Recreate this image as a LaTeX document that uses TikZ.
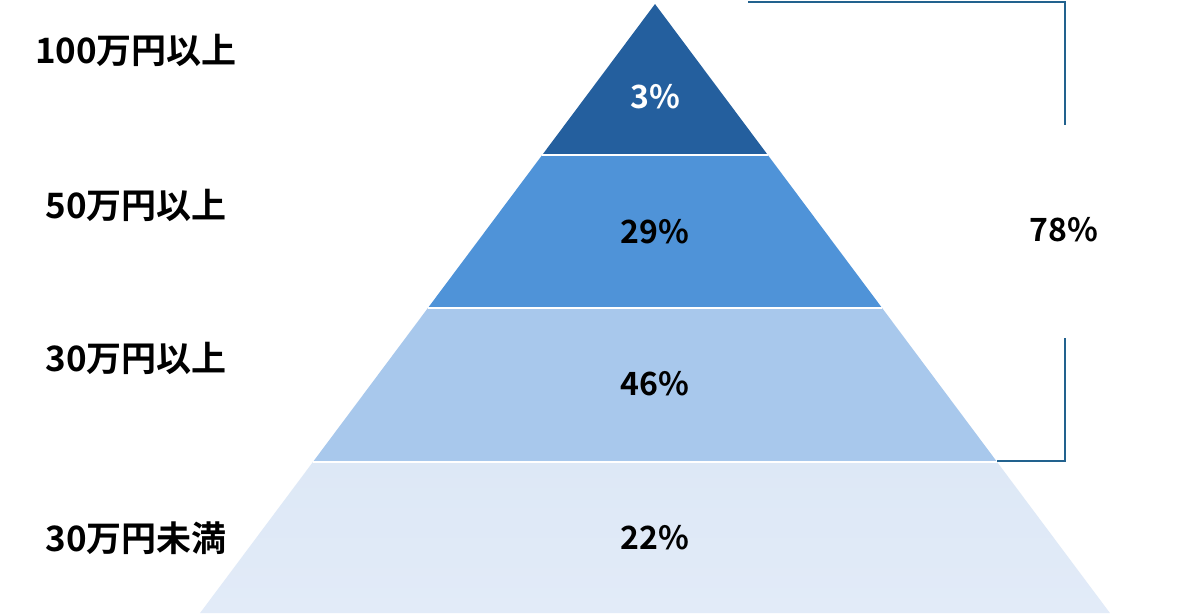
\documentclass[tikz,border=0pt]{standalone}
\usepackage{fontspec}
\setmainfont{Noto Sans CJK JP}[BoldFont={* Bold}]
\definecolor{bandA}{HTML}{245F9E}
\definecolor{bandB}{HTML}{4F93D8}
\definecolor{bandC}{HTML}{A8C8EC}
\definecolor{bandD}{HTML}{DDE8F6}
\definecolor{bandDb}{HTML}{E2EBF8}
\definecolor{brk}{HTML}{22628E}
\begin{document}
\begin{tikzpicture}[x=1pt,y=-1pt,
  lbl/.style={font=\fontsize{35}{35}\selectfont\bfseries, text=black, inner sep=0pt},
  pct/.style={font=\fontsize{32}{32}\selectfont\bfseries, text=black, inner sep=0pt},
  sep/.style={draw=white, line width=2.2pt},
  brkline/.style={draw=brk, line width=2pt}]
\useasboundingbox (0,0) rectangle (1200,616);
\fill[white] (0,0) rectangle (1200,616);
% pyramid coordinates
\coordinate (apex) at (655,4);
\coordinate (l1) at (542.2,155); \coordinate (r1) at (767.8,155);
\coordinate (l2) at (427.9,308); \coordinate (r2) at (882.1,308);
\coordinate (l3) at (312.9,462); \coordinate (r3) at (997.1,462);
\coordinate (l4) at (200.1,613); \coordinate (r4) at (1109.9,613);
% bands
\fill[bandA] (apex) -- (r1) -- (l1) -- cycle;
\fill[bandB] (l1) -- (r1) -- (r2) -- (l2) -- cycle;
\fill[bandC] (l2) -- (r2) -- (r3) -- (l3) -- cycle;
\shade[top color=bandD, bottom color=bandDb] (l3) -- (r3) -- (r4) -- (l4) -- cycle;
\draw[sep] (l1) -- (r1);
\draw[sep] (l2) -- (r2);
\draw[sep] (l3) -- (r3);
% bracket
\coordinate (bt0) at (748,2);
\coordinate (bt1) at (1065,2);
\coordinate (bt2) at (1065,125);
\coordinate (bb0) at (1065,338);
\coordinate (bb1) at (1065,461);
\coordinate (bb2) at (997.1,461);
\draw[brkline, line join=miter] (bt0) -- (bt1) -- (bt2);
\draw[brkline, line join=miter] (bb0) -- (bb1) -- (bb2);
% percentages
\node[pct, text=white] (p1) at (655,97) {3\%};
\node[pct] (p2) at (655,232) {29\%};
\node[pct] (p3) at (655,384) {46\%};
\node[pct] (p4) at (655,538) {22\%};
\node[pct] (p5) at (1064,230) {78\%};
% left labels
\node[lbl] (t1) at (136,50) {100万円以上};
\node[lbl] (t2) at (136,205) {50万円以上};
\node[lbl] (t3) at (136,358) {30万円以上};
\node[lbl] (t4) at (136,538) {30万円未満};
\end{tikzpicture}
\end{document}
